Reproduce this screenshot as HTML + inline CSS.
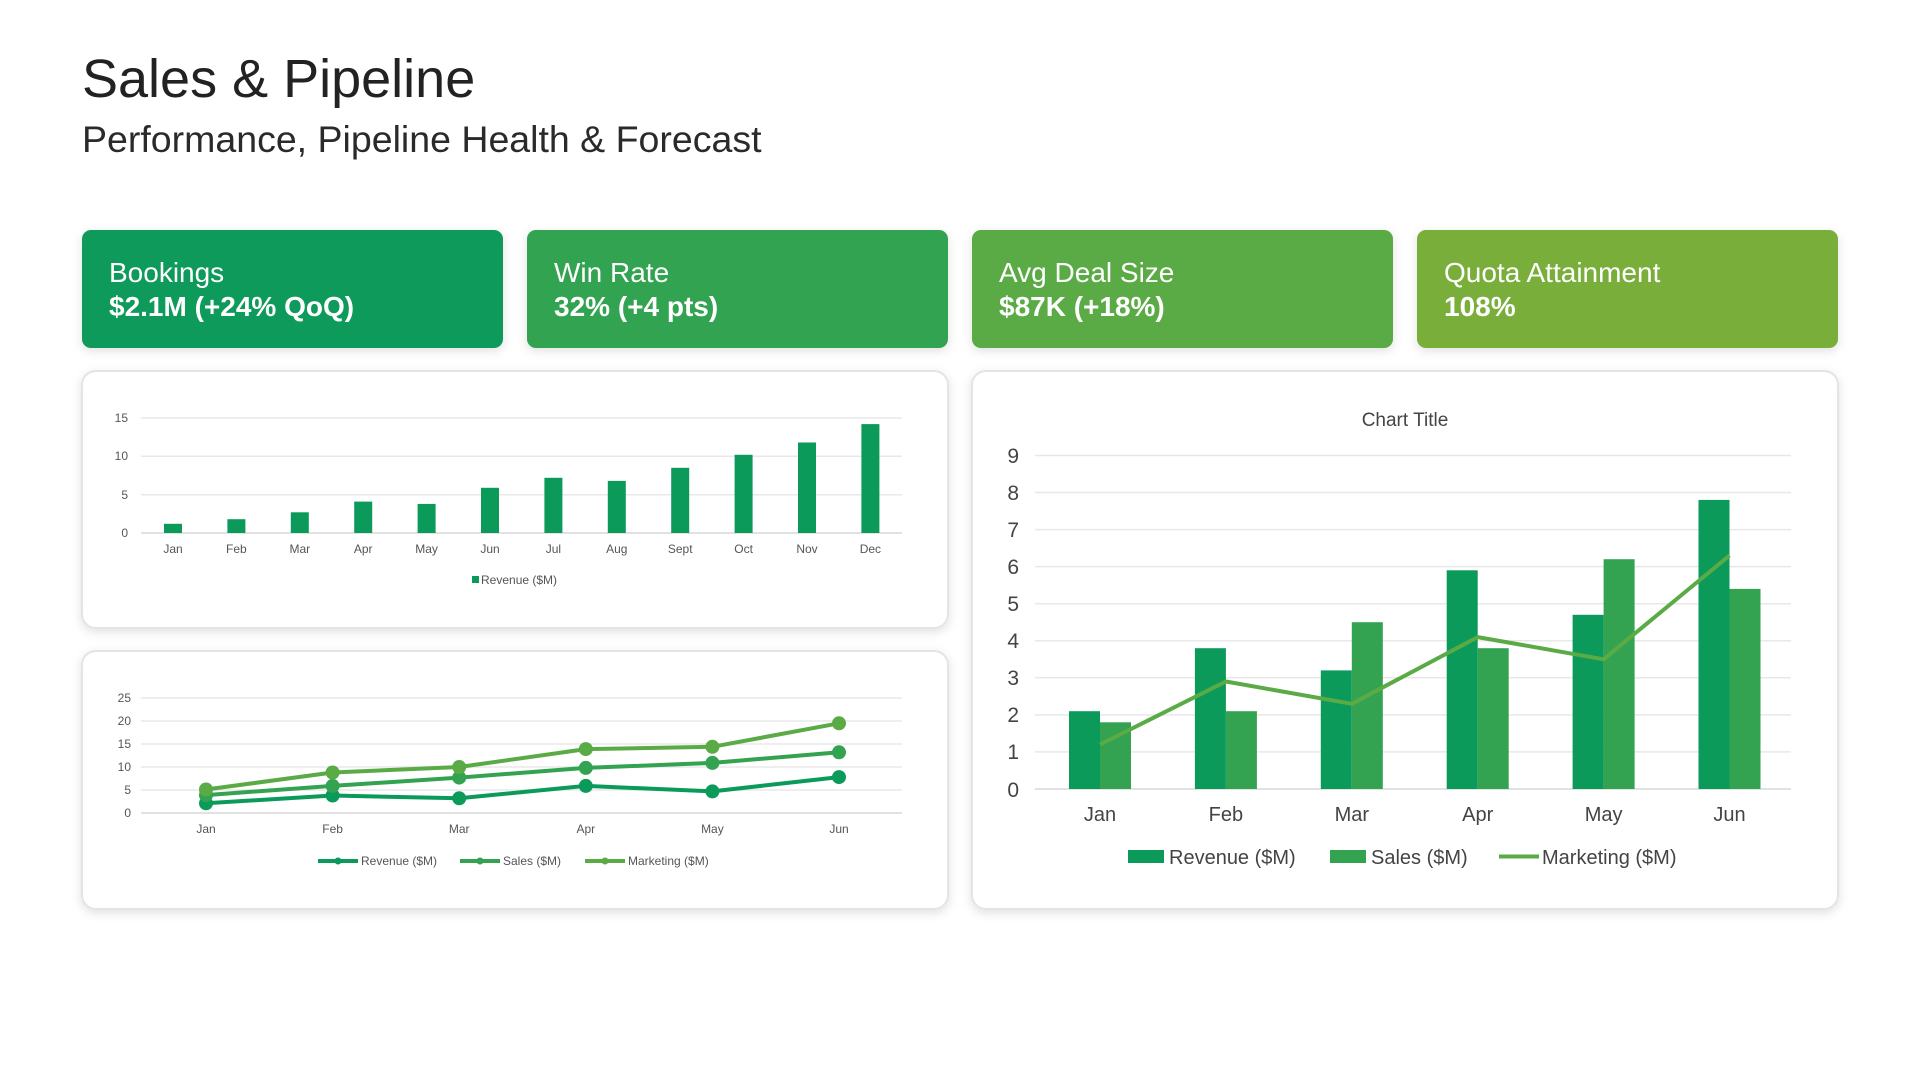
<!DOCTYPE html>
<html><head><meta charset="utf-8"><style>
html,body{margin:0;padding:0;background:#fff;}
svg{display:block;font-family:"Liberation Sans",sans-serif;}
</style></head><body>
<svg width="1920" height="1080" viewBox="0 0 1920 1080" xmlns="http://www.w3.org/2000/svg">
<defs>
<filter id="sh" x="-5%" y="-5%" width="110%" height="115%"><feDropShadow dx="0" dy="3" stdDeviation="5" flood-color="#000" flood-opacity="0.12"/></filter>
</defs>
<text x="82" y="97" font-size="54" fill="#222">Sales &amp; Pipeline</text>
<text x="82" y="152" font-size="37.5" fill="#2a2a2a">Performance, Pipeline Health &amp; Forecast</text>

<g filter="url(#sh)">
<rect x="82" y="230" width="421" height="118" rx="9" fill="#0b9a5a"/>
<rect x="527" y="230" width="421" height="118" rx="9" fill="#33a351"/>
<rect x="972" y="230" width="421" height="118" rx="9" fill="#5aab45"/>
<rect x="1417" y="230" width="421" height="118" rx="9" fill="#7aae3a"/>
</g>
<g fill="#fff" font-size="28">
<text x="109" y="282">Bookings</text><text x="109" y="316" font-weight="bold">$2.1M (+24% QoQ)</text>
<text x="554" y="282">Win Rate</text><text x="554" y="316" font-weight="bold">32% (+4 pts)</text>
<text x="999" y="282">Avg Deal Size</text><text x="999" y="316" font-weight="bold">$87K (+18%)</text>
<text x="1444" y="282">Quota Attainment</text><text x="1444" y="316" font-weight="bold">108%</text>
</g>

<g filter="url(#sh)" fill="#fff" stroke="#e4e4e4" stroke-width="2">
<rect x="82" y="371" width="866" height="257" rx="14"/>
<rect x="82" y="651" width="866" height="258" rx="14"/>
<rect x="972" y="371" width="866" height="538" rx="14"/>
</g>

<!-- Chart 1 -->
<g stroke="#e8e8e8" stroke-width="1.5"><line x1="141" x2="902" y1="418" y2="418"/><line x1="141" x2="902" y1="456.3" y2="456.3"/><line x1="141" x2="902" y1="494.7" y2="494.7"/><line x1="141" x2="902" y1="533" y2="533" stroke="#d8d8d8"/></g>
<g font-size="12" fill="#555" text-anchor="end"><text x="128" y="422">15</text><text x="128" y="460">10</text><text x="128" y="499">5</text><text x="128" y="537">0</text></g>
<g fill="#0b9a5a">
<rect x="164" y="523.8" width="18" height="9.2"/><rect x="227.4" y="519.2" width="18" height="13.8"/><rect x="290.8" y="512.3" width="18" height="20.7"/><rect x="354.2" y="501.6" width="18" height="31.4"/><rect x="417.6" y="503.9" width="18" height="29.1"/><rect x="481" y="487.8" width="18" height="45.2"/><rect x="544.4" y="477.8" width="18" height="55.2"/><rect x="607.8" y="480.9" width="18" height="52.1"/><rect x="671.2" y="467.8" width="18" height="65.2"/><rect x="734.6" y="454.8" width="18" height="78.2"/><rect x="798" y="442.5" width="18" height="90.5"/><rect x="861.4" y="424.1" width="18" height="108.9"/>
</g>
<g font-size="12" fill="#555" text-anchor="middle"><text x="173" y="553">Jan</text><text x="236.4" y="553">Feb</text><text x="299.8" y="553">Mar</text><text x="363.2" y="553">Apr</text><text x="426.6" y="553">May</text><text x="490" y="553">Jun</text><text x="553.4" y="553">Jul</text><text x="616.8" y="553">Aug</text><text x="680.2" y="553">Sept</text><text x="743.6" y="553">Oct</text><text x="807" y="553">Nov</text><text x="870.4" y="553">Dec</text></g>
<rect x="472" y="576" width="7" height="7" fill="#0b9a5a"/><text x="481" y="584" font-size="12" fill="#555">Revenue ($M)</text>

<!-- Chart 2 -->
<g stroke="#e8e8e8" stroke-width="1.5"><line x1="141" x2="902" y1="698" y2="698"/><line x1="141" x2="902" y1="721" y2="721"/><line x1="141" x2="902" y1="744" y2="744"/><line x1="141" x2="902" y1="767" y2="767"/><line x1="141" x2="902" y1="790" y2="790"/><line x1="141" x2="902" y1="813" y2="813" stroke="#d8d8d8"/></g>
<g font-size="12" fill="#555" text-anchor="end"><text x="131" y="702">25</text><text x="131" y="725">20</text><text x="131" y="748">15</text><text x="131" y="771">10</text><text x="131" y="794">5</text><text x="131" y="817">0</text></g>
<g fill="none" stroke-width="4" stroke-linejoin="round">
<polyline stroke="#0b9a5a" points="206,803.3 332.6,795.5 459.2,798.3 585.8,785.9 712.4,791.4 839,777.1"/>
<polyline stroke="#33a351" points="206,795.1 332.6,785.9 459.2,777.6 585.8,767.9 712.4,762.9 839,752.3"/>
<polyline stroke="#5aab45" points="206,789.5 332.6,772.5 459.2,767 585.8,749.1 712.4,746.8 839,723.3"/>
</g>
<g fill="#0b9a5a"><circle cx="206" cy="803.3" r="7"/><circle cx="332.6" cy="795.5" r="7"/><circle cx="459.2" cy="798.3" r="7"/><circle cx="585.8" cy="785.9" r="7"/><circle cx="712.4" cy="791.4" r="7"/><circle cx="839" cy="777.1" r="7"/></g>
<g fill="#33a351"><circle cx="206" cy="795.1" r="7"/><circle cx="332.6" cy="785.9" r="7"/><circle cx="459.2" cy="777.6" r="7"/><circle cx="585.8" cy="767.9" r="7"/><circle cx="712.4" cy="762.9" r="7"/><circle cx="839" cy="752.3" r="7"/></g>
<g fill="#5aab45"><circle cx="206" cy="789.5" r="7"/><circle cx="332.6" cy="772.5" r="7"/><circle cx="459.2" cy="767" r="7"/><circle cx="585.8" cy="749.1" r="7"/><circle cx="712.4" cy="746.8" r="7"/><circle cx="839" cy="723.3" r="7"/></g>
<g font-size="12" fill="#555" text-anchor="middle"><text x="206" y="833">Jan</text><text x="332.6" y="833">Feb</text><text x="459.2" y="833">Mar</text><text x="585.8" y="833">Apr</text><text x="712.4" y="833">May</text><text x="839" y="833">Jun</text></g>
<g stroke-width="4"><line x1="318" x2="358" y1="861" y2="861" stroke="#0b9a5a"/><line x1="460" x2="500" y1="861" y2="861" stroke="#33a351"/><line x1="585" x2="625" y1="861" y2="861" stroke="#5aab45"/></g>
<circle cx="338" cy="861" r="3.5" fill="#0b9a5a"/><circle cx="480" cy="861" r="3.5" fill="#33a351"/><circle cx="605" cy="861" r="3.5" fill="#5aab45"/>
<g font-size="12" fill="#555"><text x="361" y="865">Revenue ($M)</text><text x="503" y="865">Sales ($M)</text><text x="628" y="865">Marketing ($M)</text></g>

<!-- Chart 3 -->
<text x="1405" y="426" font-size="19" fill="#444" text-anchor="middle">Chart Title</text>
<g stroke="#e8e8e8" stroke-width="1.5"><line x1="1035" x2="1791" y1="455.5" y2="455.5"/><line x1="1035" x2="1791" y1="492.5" y2="492.5"/><line x1="1035" x2="1791" y1="529.6" y2="529.6"/><line x1="1035" x2="1791" y1="566.6" y2="566.6"/><line x1="1035" x2="1791" y1="603.7" y2="603.7"/><line x1="1035" x2="1791" y1="640.8" y2="640.8"/><line x1="1035" x2="1791" y1="677.8" y2="677.8"/><line x1="1035" x2="1791" y1="714.9" y2="714.9"/><line x1="1035" x2="1791" y1="751.9" y2="751.9"/><line x1="1035" x2="1791" y1="789" y2="789" stroke="#d8d8d8"/></g>
<g font-size="21" fill="#444" text-anchor="end"><text x="1019" y="463">9</text><text x="1019" y="500">8</text><text x="1019" y="537">7</text><text x="1019" y="574">6</text><text x="1019" y="611">5</text><text x="1019" y="648">4</text><text x="1019" y="685">3</text><text x="1019" y="722">2</text><text x="1019" y="759">1</text><text x="1019" y="797">0</text></g>
<g fill="#0b9a5a"><rect x="1069" y="711.2" width="31" height="77.8"/><rect x="1194.9" y="648.2" width="31" height="140.8"/><rect x="1320.8" y="670.4" width="31" height="118.6"/><rect x="1446.7" y="570.3" width="31" height="218.7"/><rect x="1572.6" y="614.8" width="31" height="174.2"/><rect x="1698.5" y="499.9" width="31" height="289.1"/></g>
<g fill="#33a351"><rect x="1100" y="722.3" width="31" height="66.7"/><rect x="1225.9" y="711.2" width="31" height="77.8"/><rect x="1351.8" y="622.2" width="31" height="166.8"/><rect x="1477.7" y="648.2" width="31" height="140.8"/><rect x="1603.6" y="559.2" width="31" height="229.8"/><rect x="1729.5" y="588.9" width="31" height="200.1"/></g>
<polyline fill="none" stroke="#5aab45" stroke-width="4" stroke-linejoin="round" points="1100,744.5 1225.9,681.5 1351.8,703.8 1477.7,637.1 1603.6,659.3 1729.5,555.5"/>
<g font-size="20" fill="#444" text-anchor="middle"><text x="1100" y="821">Jan</text><text x="1225.9" y="821">Feb</text><text x="1351.8" y="821">Mar</text><text x="1477.7" y="821">Apr</text><text x="1603.6" y="821">May</text><text x="1729.5" y="821">Jun</text></g>
<rect x="1128" y="850" width="36" height="13" fill="#0b9a5a"/><rect x="1330" y="850" width="36" height="13" fill="#33a351"/><line x1="1499" x2="1539" y1="856.5" y2="856.5" stroke="#5aab45" stroke-width="4"/>
<g font-size="20" fill="#444"><text x="1169" y="864">Revenue ($M)</text><text x="1371" y="864">Sales ($M)</text><text x="1542" y="864">Marketing ($M)</text></g>
</svg>
</body></html>
